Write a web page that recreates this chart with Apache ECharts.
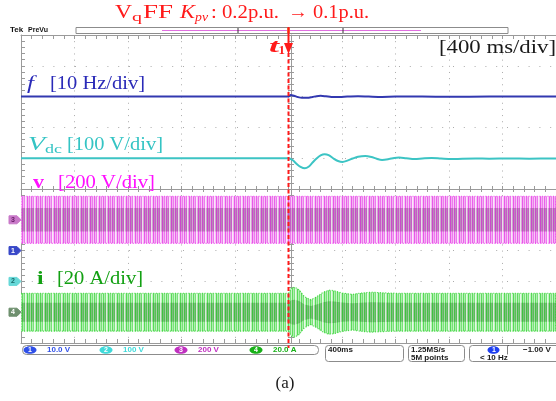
<!DOCTYPE html>
<html>
<head>
<meta charset="utf-8">
<script src="https://cdn.jsdelivr.net/npm/echarts@6/dist/echarts.min.js"></script>
<style>
  html, body { margin: 0; padding: 0; background: #fff; }
  #scope { width: 556px; height: 401px; }
</style>
</head>
<body>
<div id="scope"></div>
<script>
// Time base: milliseconds relative to the step instant t1 (screen centre), 400 ms/div
const timeSpan = [-2000, 2000];
const msPerDiv = 400;

// Channel scales (units per division) and ground-marker levels (div above bottom graticule)
const fScale = 10, vdcScale = 100, vScale = 200, iScale = 20;
const fGround = 3, vdcGround = 2, vGround = 4, iGround = 1;

// CH1 – grid frequency f [Hz]
const fTrace = [
  [-2000, 50], [0, 50], [15, 50.5], [40, 50.3], [70, 49.85], [100, 49.6], [140, 49.6],
  [180, 49.9], [210, 50.15], [240, 50.25], [280, 50.1], [320, 49.9], [380, 49.85],
  [440, 50], [520, 50.1], [600, 50], [700, 49.9], [800, 50], [1000, 50], [1200, 49.95],
  [1500, 50], [2000, 50]
];

// CH2 – DC-link voltage Vdc [V]
const vdcTrace = [
  [-2000, 400], [0, 400], [30, 394], [60, 382], [90, 372], [122, 367], [150, 372],
  [180, 386], [210, 399], [240, 409], [270, 413], [300, 410], [340, 398], [370, 391],
  [404, 388], [440, 392], [480, 399], [520, 405], [574, 407.5], [620, 404], [660, 398],
  [700, 394.5], [750, 397], [790, 400.5], [826, 402], [880, 399.5], [944, 397],
  [1000, 399], [1070, 401], [1140, 399], [1219, 397], [1300, 398.5], [1400, 399],
  [1500, 398.5], [1650, 399], [1800, 398.5], [2000, 399]
];

// CH3 – grid voltage v, peak envelope [V]
const vEnvelope = [[-2000, 153], [0, 153], [500, 153], [2000, 153]];

// CH4 – grid current i, peak envelope [A]
const iEnvelope = [
  [-2000, 12.3], [0, 12.3], [20, 15.5], [45, 16.3], [80, 14.5], [120, 10], [167, 8.1],
  [210, 10], [260, 13], [300, 14.3], [340, 14], [400, 12.5], [478, 11.6], [540, 12.4],
  [619, 13], [700, 12.6], [800, 12.3], [2000, 12.3]
];

const stepTime = 0;

// ---------------------------------------------------------------------------
const toDiv = (data, ground, scale) => data.map(([t, v]) => [t, ground + v / scale]);

// one-pixel-wide column texture, repeated across a band
function stripePattern(cols) {
  const c = document.createElement('canvas');
  c.width = cols.length; c.height = 4;
  const g = c.getContext('2d');
  cols.forEach((col, k) => { g.fillStyle = col; g.fillRect(k, 0, 1, 4); });
  return { image: c, repeat: 'repeat' };
}

const magentaStripes = stripePattern([
  'rgba(226,0,226,0.5)', 'rgba(255,255,255,0)', 'rgba(226,0,226,0.3)', 'rgba(255,255,255,0.3)',
  'rgba(226,0,226,0.45)', 'rgba(255,255,255,0)', 'rgba(226,0,226,0.3)', 'rgba(255,255,255,0.7)',
  'rgba(255,255,255,0.25)'
]);
const greenStripes = stripePattern([
  'rgba(0,200,0,0.5)', 'rgba(255,255,255,0)', 'rgba(0,200,0,0.3)', 'rgba(255,255,255,0.3)',
  'rgba(0,200,0,0.45)', 'rgba(255,255,255,0)', 'rgba(0,200,0,0.3)', 'rgba(255,255,255,0.7)',
  'rgba(255,255,255,0.25)'
]);

// A two-tone textured band between +env and -env around a ground level, placed through the axis scales
function bandSeries(env, ground, scale, outerColor, innerColor, stripes, edge) {
  return {
    type: 'custom', xAxisIndex: 0, yAxisIndex: 0, clip: true, silent: true, z: 2,
    data: [[0, ground]],
    renderItem: function (params, api) {
      const poly = (frac) => {
        const upper = env.map(([t, a]) => api.coord([t, ground + frac * a / scale]));
        const lower = env.slice().reverse().map(([t, a]) => api.coord([t, ground - frac * a / scale]));
        return upper.concat(lower);
      };
      const outer = poly(1);
      return {
        type: 'group',
        children: [
          { type: 'polygon', shape: { points: outer }, style: { fill: outerColor } },
          { type: 'polygon', shape: { points: poly(0.5) }, style: { fill: innerColor } },
          { type: 'polygon', shape: { points: outer }, style: { fill: stripes, stroke: edge, lineWidth: 1.2, lineDash: [1, 1.7] } }
        ]
      };
    }
  };
}

const gridColor = '#9a9a9a';
const baseX = {
  type: 'value', min: timeSpan[0], max: timeSpan[1], interval: msPerDiv,
  axisLabel: { show: false }, splitLine: { show: false },
  axisLine: { show: true, onZero: false, lineStyle: { color: gridColor, width: 1 } },
  axisTick: { show: true, inside: true, length: 4, lineStyle: { color: gridColor } },
  minorTick: { show: true, splitNumber: 5, length: 4, lineStyle: { color: gridColor } }
};
const baseY = {
  type: 'value', min: 0, max: 10, interval: 1,
  axisLabel: { show: false }, splitLine: { show: false },
  axisLine: { show: true, onZero: false, lineStyle: { color: gridColor, width: 1 } },
  axisTick: { show: true, inside: true, length: 4, lineStyle: { color: gridColor } },
  minorTick: { show: true, splitNumber: 5, length: 4, lineStyle: { color: gridColor } }
};
const withTicks = (base, extra, len, inside) => Object.assign({}, base, extra, {
  axisTick: Object.assign({}, base.axisTick, { length: len, inside: inside }),
  minorTick: Object.assign({}, base.minorTick, { length: len })
});

const chart = echarts.init(document.getElementById('scope'), null, { renderer: 'canvas' });

chart.setOption({
  animation: false,
  backgroundColor: '#ffffff',
  grid: { left: 21, top: 35, width: 540, height: 308, containLabel: false },
  xAxis: [
    Object.assign({}, baseX, {
      position: 'bottom',
      splitLine: { show: true, lineStyle: { color: '#ababab', width: 1, type: [1, 5.16] } }
    }),
    Object.assign({}, baseX, { position: 'top' }),
    withTicks(baseX, { position: 'bottom', offset: -154 }, 3, true),
    withTicks(baseX, { position: 'bottom', offset: -154, axisLine: { show: false } }, 3, false)
  ],
  yAxis: [
    Object.assign({}, baseY, {
      position: 'left',
      splitLine: { show: true, lineStyle: { color: '#ababab', width: 1, type: [1, 9.8] } }
    }),
    withTicks(baseY, { position: 'left', offset: -270 }, 3, true),
    withTicks(baseY, { position: 'left', offset: -270, axisLine: { show: false } }, 3, false)
  ],
  series: [
    bandSeries(vEnvelope, vGround, vScale, '#f2b0f2', '#b886b8', magentaStripes, 'rgba(236,40,236,0.75)'),
    bandSeries(iEnvelope, iGround, iScale, '#aeeeae', '#7cbc7c', greenStripes, 'rgba(30,210,30,0.75)'),
    {
      name: 'f', type: 'line', xAxisIndex: 0, yAxisIndex: 0, z: 5,
      data: toDiv(fTrace, fGround, fScale), showSymbol: false, smooth: 0.3,
      lineStyle: { color: '#3238b0', width: 2 }
    },
    {
      name: 'Vdc', type: 'line', xAxisIndex: 0, yAxisIndex: 0, z: 5,
      data: toDiv(vdcTrace, vdcGround, vdcScale), showSymbol: false, smooth: 0.3,
      lineStyle: { color: '#3cc4c4', width: 2 }
    }
  ]
});

// ---------------------------------------------------------------------------
// Annotations, channel readouts and scope frame text
const px = (t, d) => chart.convertToPixel({ xAxisIndex: 0, yAxisIndex: 0 }, [t, d]);
const tX = px(stepTime, 0)[0];
const red = '#ff1a1a';
const serif = '"Liberation Serif", "DejaVu Serif", serif';
const ui = '"Liberation Sans", "DejaVu Sans", sans-serif';
const measureCtx = document.createElement('canvas').getContext('2d');

function txt(x, y, text, size, color, extra) {
  return {
    type: 'text', x: x, y: y, z: 50, silent: true,
    style: Object.assign({ text: text, fontSize: size, fill: color, fontFamily: serif, verticalAlign: 'middle', align: 'left' }, extra || {})
  };
}
// text stretched horizontally to span a given width
function fit(x, y, text, size, color, width, extra) {
  const e = extra || {};
  measureCtx.font = (e.fontStyle || 'normal') + ' ' + (e.fontWeight || 'normal') + ' ' + size + 'px ' + (e.fontFamily || serif);
  const el = txt(x, y, text, size, color, extra);
  el.scaleX = width / measureCtx.measureText(text).width;
  return el;
}

function chMarker(level, color, digit, textColor) {
  const y = px(0, level)[1];
  return [
    { type: 'polygon', z: 40, silent: true,
      shape: { points: [[9, y - 4], [17, y - 4], [21, y], [17, y + 4], [9, y + 4]] },
      style: { fill: color, stroke: color, lineWidth: 1 } },
    txt(11, y, digit, 7, textColor, { fontFamily: ui, fontWeight: 'bold' })
  ];
}

function chBadge(x, y, digit, color, label) {
  return [
    { type: 'ellipse', z: 40, silent: true, shape: { cx: x + 6, cy: y, rx: 6.5, ry: 3.8 }, style: { fill: color } },
    txt(x + 4, y, digit, 7, '#ffffff', { fontFamily: ui, fontWeight: 'bold' }),
    txt(x + 23, y, label, 8, color, { fontFamily: ui, fontWeight: 'bold' })
  ];
}

const graphics = [
  // record-length bar
  { type: 'rect', z: 30, silent: true, shape: { x: 76, y: 27.5, width: 432, height: 6 }, style: { fill: '#fff', stroke: '#8c8c8c', lineWidth: 1 } },
  { type: 'line', z: 31, silent: true, shape: { x1: 162, y1: 30.5, x2: 421, y2: 30.5 }, style: { stroke: '#e070e0', lineWidth: 1 } },
  { type: 'line', z: 31, silent: true, shape: { x1: 238, y1: 28, x2: 238, y2: 33 }, style: { stroke: '#333', lineWidth: 1 } },
  { type: 'line', z: 31, silent: true, shape: { x1: 343, y1: 28, x2: 343, y2: 33 }, style: { stroke: '#333', lineWidth: 1 } },
  { type: 'rect', z: 31, silent: true, shape: { x: tX - 1.5, y: 28, width: 3, height: 5 }, style: { fill: '#f0a040' } },
  txt(10, 30, 'Tek', 8, '#111', { fontFamily: ui, fontWeight: 'bold' }),
  txt(28, 30, 'PreVu', 7, '#111', { fontFamily: ui, fontWeight: 'bold' }),

  // step instant t1
  { type: 'line', z: 45, silent: true, shape: { x1: tX, y1: 53, x2: tX, y2: 348 }, style: { stroke: red, lineWidth: 2, lineDash: [4, 2.5] } },
  { type: 'line', z: 45, silent: true, shape: { x1: tX, y1: 27, x2: tX, y2: 45 }, style: { stroke: red, lineWidth: 2 } },
  { type: 'polygon', z: 45, silent: true, shape: { points: [[tX - 4.5, 43], [tX + 4.5, 43], [tX, 54]] }, style: { fill: red } },
  fit(269, 47.5, 't', 19, red, 10, { fontStyle: 'italic', fontWeight: 'bold' }),
  fit(278.5, 51, '1', 12, red, 6.5, { fontWeight: 'bold' }),

  // heading
  fit(115, 13, 'V', 18, red, 17),
  fit(132, 17.5, 'q', 12, red, 10),
  fit(143, 13, 'FF', 18, red, 30),
  fit(180, 13, 'K', 18, red, 15, { fontStyle: 'italic' }),
  fit(195, 18, 'pv', 12, red, 13, { fontStyle: 'italic' }),
  fit(211, 13, ': 0.2p.u.', 18, red, 68),
  fit(288, 13, '\u2192', 19, red, 20, { fontWeight: 'bold' }),
  fit(313, 13, '0.1p.u.', 18, red, 56),

  fit(439, 48, '[400 ms/div]', 18, '#1a1a1a', 117),

  // channel captions
  fit(27, 84, 'f', 18, '#2a2ab8', 7, { fontStyle: 'italic' }),
  fit(50, 84, '[10 Hz/div]', 18, '#2a2ab8', 95),
  fit(28, 145, 'V', 18, '#34c4c4', 17, { fontStyle: 'italic' }),
  fit(45, 150, 'dc', 12, '#34c4c4', 17),
  fit(67, 145, '[100 V/div]', 18, '#34c4c4', 96),
  fit(33, 183, 'v', 18, '#ff10ff', 11, { fontWeight: 'bold' }),
  fit(58, 183, '[200 V/div]', 18, '#ff10ff', 97),
  fit(37, 279, 'i', 18, '#12a012', 6.5, { fontWeight: 'bold' }),
  fit(57, 279, '[20 A/div]', 18, '#12a012', 86),

  // bottom readout boxes
  { type: 'rect', z: 30, silent: true, shape: { x: 22.5, y: 345.5, width: 296, height: 9, r: 4 }, style: { fill: '#fff', stroke: '#8c8c8c', lineWidth: 1 } },
  { type: 'rect', z: 30, silent: true, shape: { x: 325.5, y: 345.5, width: 78, height: 16, r: 3 }, style: { fill: '#fff', stroke: '#8c8c8c', lineWidth: 1 } },
  { type: 'rect', z: 30, silent: true, shape: { x: 408.5, y: 345.5, width: 56, height: 16, r: 3 }, style: { fill: '#fff', stroke: '#8c8c8c', lineWidth: 1 } },
  { type: 'rect', z: 30, silent: true, shape: { x: 469.5, y: 345.5, width: 95, height: 16, r: 3 }, style: { fill: '#fff', stroke: '#8c8c8c', lineWidth: 1 } },
  txt(328, 350, '400ms', 8, '#1a1a1a', { fontFamily: ui, fontWeight: 'bold' }),
  txt(411, 350, '1.25MS/s', 8, '#1a1a1a', { fontFamily: ui, fontWeight: 'bold' }),
  txt(411, 358, '5M points', 8, '#1a1a1a', { fontFamily: ui, fontWeight: 'bold' }),
  { type: 'ellipse', z: 40, silent: true, shape: { cx: 493.5, cy: 350, rx: 6, ry: 3.8 }, style: { fill: '#2040f0' } },
  txt(492, 350, '1', 7, '#ffffff', { fontFamily: ui, fontWeight: 'bold' }),
  txt(505, 350, '\u2320', 8, '#1a1a1a', { fontFamily: ui, fontWeight: 'bold' }),
  txt(523, 350, '\u22121.00 V', 8, '#1a1a1a', { fontFamily: ui, fontWeight: 'bold' }),
  txt(480, 358, '< 10 Hz', 8, '#1a1a1a', { fontFamily: ui, fontWeight: 'bold' }),

  // figure label
  txt(285, 384, '(a)', 17, '#1a1a1a', { align: 'center' })
];

[].concat(
  chMarker(vGround, '#c878c8', '3', '#6a206a'),
  chMarker(fGround, '#3848c8', '1', '#ffffff'),
  chMarker(vdcGround, '#66d8d8', '2', '#1a6a6a'),
  chMarker(iGround, '#6f906f', '4', '#ffffff'),
  chBadge(24, 350, '1', '#3050e8', '10.0 V'),
  chBadge(100, 350, '2', '#40dada', '100 V'),
  chBadge(175, 350, '3', '#c030c0', '200 V'),
  chBadge(250, 350, '4', '#18b018', '20.0 A')
).forEach(g => graphics.push(g));

chart.setOption({ graphic: graphics });
</script>
</body>
</html>
